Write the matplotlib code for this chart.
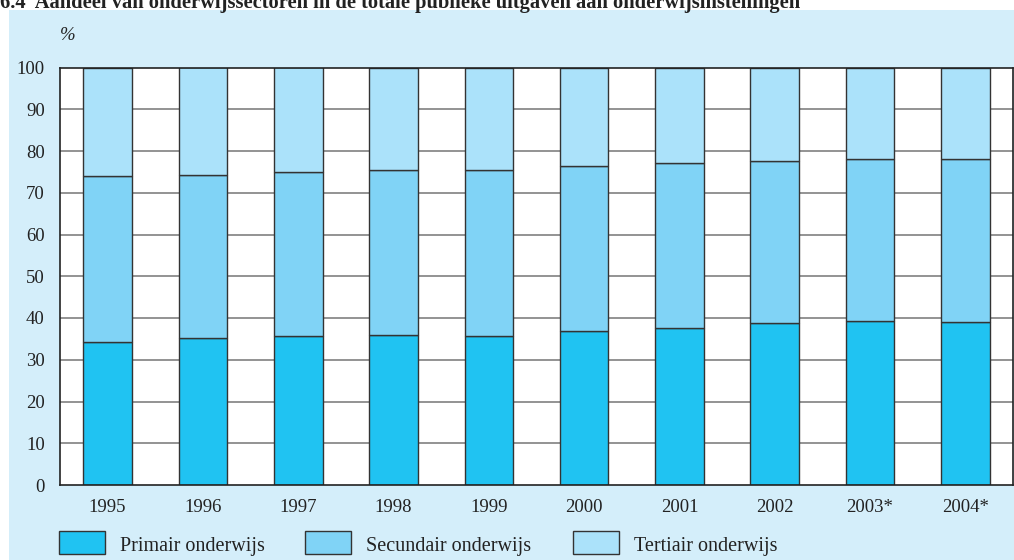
#!/usr/bin/env python3
"""
Stacked bar chart: share of education sectors in public spending on
educational institutions, 1995-2004.
"""

import matplotlib
matplotlib.use("Agg")
import matplotlib.pyplot as plt
import matplotlib.patches as mpatches
import numpy as np

# Data (percent)
years = ['1995', '1996', '1997', '1998', '1999', '2000', '2001', '2002', '2003*', '2004*']
primair = [34.3, 35.1, 35.8, 35.9, 35.7, 37.0, 37.7, 38.8, 39.3, 39.0]
secundair = [39.6, 39.2, 39.1, 39.6, 39.8, 39.5, 39.5, 38.9, 38.8, 39.0]
tertiair = [26.1, 25.7, 25.1, 24.5, 24.5, 23.5, 22.8, 22.3, 21.9, 22.0]

series_names = ['Primair onderwijs', 'Secundair onderwijs', 'Tertiair onderwijs']
colors = ['#20c3f2', '#80d3f6', '#abe2fa']
PANEL_BG = '#d4eefa'
TITLE = '6.4  Aandeel van onderwijssectoren in de totale publieke uitgaven aan onderwijsinstellingen'

FONT = 'Liberation Serif'


def create_chart():
    W, H = 1014, 560
    fig = plt.figure(figsize=(W / 100, H / 100), dpi=100)
    fig.patch.set_facecolor('white')

    # light blue panel behind everything
    fig.patches.append(mpatches.Rectangle((9 / W, 0), 1 - 9 / W, 1 - 10 / H,
                                          transform=fig.transFigure,
                                          facecolor=PANEL_BG, edgecolor='none',
                                          zorder=-5))

    # title, cut off at the top as in the source
    fig.text(0.0, 1 - 8 / H, TITLE, ha='left', va='baseline',
             fontsize=14.8, fontweight='bold', family=FONT, color='#222222')

    ax = fig.add_axes([60 / W, 1 - 485 / H, (1013 - 60) / W, (485 - 67.5) / H])
    ax.set_facecolor('white')

    x = np.arange(len(years))
    bottom = np.zeros(len(years))
    for vals, color in zip([primair, secundair, tertiair], colors):
        ax.bar(x, vals, width=0.51, bottom=bottom, color=color,
               edgecolor='#333333', linewidth=1.0, zorder=3)
        bottom += np.array(vals)

    ax.set_xlim(-0.5, len(years) - 0.5)
    ax.set_ylim(0, 100)
    ax.set_yticks(range(0, 101, 10))
    ax.set_xticks(x)
    ax.set_xticklabels(years)

    for y in range(10, 100, 10):
        ax.axhline(y, color='#8a8a8a', linewidth=1.3, zorder=1)

    for s in ax.spines.values():
        s.set_color('#222222')
        s.set_linewidth(1.2)
        s.set_zorder(4)

    ax.tick_params(axis='both', length=0, labelsize=13.5, colors='#222222')
    ax.tick_params(axis='x', pad=10)
    ax.tick_params(axis='y', pad=11)
    for lab in ax.get_xticklabels() + ax.get_yticklabels():
        lab.set_family(FONT)

    # unit label
    fig.text(60 / W, 1 - 36 / H, '%', ha='left', va='center', fontsize=13.5,
             style='italic', family=FONT, color='#222222')

    # legend drawn by hand to match the source layout
    box_x = [59, 305, 573]
    for bx, color, name in zip(box_x, colors, series_names):
        fig.patches.append(mpatches.Rectangle((bx / W, 1 - 554 / H), 46 / W, 23 / H,
                                              transform=fig.transFigure,
                                              facecolor=color, edgecolor='#333333',
                                              linewidth=1.0, zorder=2))
        fig.text((bx + 61) / W, 1 - 547 / H, name, ha='left', va='center',
                 fontsize=14.5, family=FONT, color='#222222')

    fig.savefig('out.png', dpi=100)
    plt.close(fig)


if __name__ == "__main__":
    create_chart()
